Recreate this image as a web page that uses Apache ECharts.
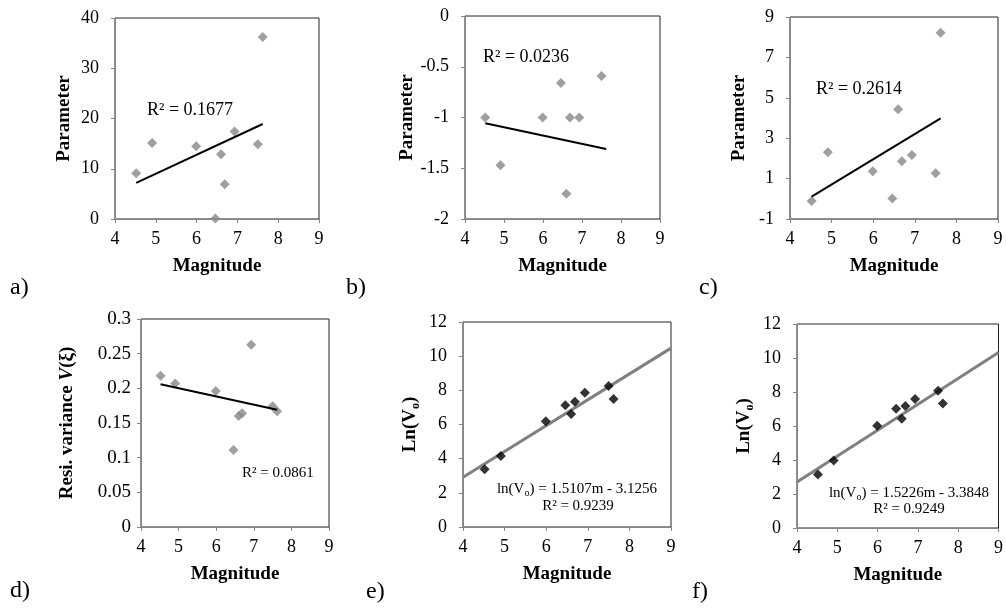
<!DOCTYPE html>
<html>
<head>
<meta charset="utf-8">
<script src="https://cdn.jsdelivr.net/npm/echarts@6/dist/echarts.min.js"></script>
<style>html,body{margin:0;padding:0;background:#fff}#c{width:1006px;height:610px}</style>
</head>
<body>
<div id="c"></div>
<script>
// ---- data ----
var magnitude = [4.52, 4.91, 5.99, 6.46, 6.6, 6.69, 6.93, 7.5, 7.62];
var paramA = [9.1, 15.1, 14.5, 0.1, 12.9, 6.9, 17.4, 14.9, 36.2];
var paramB = [-1.0, -1.47, -1.0, -0.66, -1.75, -1.0, -1.0, -0.59, null];
var paramC = [-0.11, 2.30, 1.36, 0.02, 4.43, 1.86, 2.17, 1.26, 8.22];
var resiVar = [0.218, 0.207, 0.196, 0.111, 0.160, 0.164, 0.263, 0.174, 0.167];
var lnVoE = [3.38, 4.16, 6.19, 7.13, 6.61, 7.33, 7.86, 8.25, 7.50];
var lnVoF = [3.15, 3.97, 6.02, 7.02, 6.43, 7.18, 7.59, 8.07, 7.32];

var trendX = [4.52, 7.62];
var trendAY = [7.2, 18.9];
var trendBY = [-1.056, -1.311];
var trendCY = [0.11, 3.98];
var trendDY = [0.206, 0.169];
var fitX = [4, 9];
var fitEY = [2.917, 10.471];
var fitFY = [2.706, 10.319];

var xTicks = {min: 4, max: 9, interval: 1};
var yRanges = [
  {min: 0, max: 40, interval: 10},
  {min: -2, max: 0, interval: 0.5},
  {min: -1, max: 9, interval: 2},
  {min: 0, max: 0.3, interval: 0.05},
  {min: 0, max: 12, interval: 2},
  {min: 0, max: 12, interval: 2}
];
var panelLetters = ['a)', 'b)', 'c)', 'd)', 'e)', 'f)'];
var r2Texts = ['R\u00b2 = 0.1677', 'R\u00b2 = 0.0236', 'R\u00b2 = 0.2614', 'R\u00b2 = 0.0861', 'R\u00b2 = 0.9239', 'R\u00b2 = 0.9249'];
var eqTexts = ['1.5107m - 3.1256', '1.5226m - 3.3848'];

// ---- layout ----
var FONT = 'Liberation Serif';
var grids = [
  {left: 115, top: 18, width: 204, height: 201},
  {left: 465, top: 16, width: 195, height: 203},
  {left: 790, top: 17, width: 208, height: 202},
  {left: 141, top: 319, width: 188, height: 208},
  {left: 463, top: 322, width: 208, height: 205},
  {left: 797, top: 324, width: 207, height: 204}
];
var yNameGap = [41, 41, 41, 62, 41, 41];
var yLabelMargin = [16, 16, 16, 10, 16, 16];
var yLabelSize = [18, 18, 18, 19, 18, 18];
var yNames = ['Parameter', 'Parameter', 'Parameter',
  '{b|Resi. variance }{i|V}{b|(\u03be)}',
  '{b|Ln(V}{s|o}{b|)}', '{b|Ln(V}{s|o}{b|)}'];

function pairs(xs, ys) {
  var out = [];
  for (var i = 0; i < xs.length; i++) {
    if (ys[i] !== null) out.push([xs[i], ys[i]]);
  }
  return out;
}

var gridOpt = grids.map(function (g) {
  return Object.assign({show: true, borderColor: '#222', borderWidth: 1, backgroundColor: '#fff'}, g);
});

var axisLineStyle = {color: '#868686', width: 1};
var xAxes = grids.map(function (g, i) {
  return {
    gridIndex: i, type: 'value', min: xTicks.min, max: xTicks.max, interval: xTicks.interval,
    axisLine: {show: true, onZero: false, lineStyle: axisLineStyle},
    axisTick: {show: true, inside: false, length: 4, lineStyle: axisLineStyle},
    axisLabel: {fontFamily: FONT, fontSize: 18, color: '#000', margin: 11},
    splitLine: {show: false},
    name: 'Magnitude', nameLocation: 'middle', nameGap: 38,
    nameTextStyle: {fontFamily: FONT, fontWeight: 'bold', fontSize: 19, color: '#000'}
  };
});
var richY = {
  b: {fontFamily: FONT, fontWeight: 'bold', fontSize: 19, color: '#000', lineHeight: 24},
  i: {fontFamily: FONT, fontWeight: 'bold', fontStyle: 'italic', fontSize: 19, color: '#000', lineHeight: 24},
  s: {fontFamily: FONT, fontWeight: 'bold', fontSize: 12, color: '#000', lineHeight: 14, verticalAlign: 'bottom'}
};
var yAxes = grids.map(function (g, i) {
  var r = yRanges[i];
  return {
    gridIndex: i, type: 'value', min: r.min, max: r.max, interval: r.interval,
    axisLine: {show: true, onZero: false, lineStyle: axisLineStyle},
    axisTick: {show: true, inside: false, length: 4, lineStyle: axisLineStyle},
    axisLabel: {fontFamily: FONT, fontSize: yLabelSize[i], color: '#000', margin: yLabelMargin[i]},
    splitLine: {show: false},
    name: yNames[i], nameLocation: 'middle', nameGap: yNameGap[i], nameRotate: 90,
    nameTextStyle: {fontFamily: FONT, fontWeight: 'bold', fontSize: 19, color: '#000', rich: richY}
  };
});

var pointSets = [paramA, paramB, paramC, resiVar, lnVoE, lnVoF];
var series = [];
pointSets.forEach(function (ys, i) {
  series.push({
    type: 'scatter', xAxisIndex: i, yAxisIndex: i, symbol: 'diamond', symbolSize: 10,
    itemStyle: {color: i < 4 ? '#878787' : '#000'}, z: 3,
    data: pairs(magnitude, ys)
  });
});
[trendAY, trendBY, trendCY, trendDY].forEach(function (ys, i) {
  series.push({
    type: 'line', xAxisIndex: i, yAxisIndex: i, symbol: 'none', z: 4,
    lineStyle: {color: '#000', width: 2}, data: pairs(trendX, ys)
  });
});
[fitEY, fitFY].forEach(function (ys, k) {
  series.push({
    type: 'line', xAxisIndex: 4 + k, yAxisIndex: 4 + k, symbol: 'none', z: 2,
    lineStyle: {color: '#808080', width: 3}, data: pairs(fitX, ys)
  });
});

// ---- annotation texts ----
function txt(x, y, s, size, align, extra) {
  return {
    type: 'text', x: x, y: y, z: 100,
    style: Object.assign({text: s, fontFamily: FONT, fontSize: size, fill: '#000',
      align: align || 'left', verticalAlign: 'middle'}, extra || {})
  };
}
var letterPos = [[10, 288], [346, 288], [699, 288], [10, 591], [366, 592], [692, 592]];
var graphics = [];
panelLetters.forEach(function (l, i) {
  graphics.push(txt(letterPos[i][0], letterPos[i][1], l, 24));
});
graphics.push(txt(147, 110, r2Texts[0], 18));
graphics.push(txt(483, 57, r2Texts[1], 18));
graphics.push(txt(816, 89, r2Texts[2], 18));
graphics.push(txt(242, 473, r2Texts[3], 15));
var richEq = {
  n: {fontFamily: FONT, fontSize: 15, fill: '#000', lineHeight: 18},
  s: {fontFamily: FONT, fontSize: 10, fill: '#000', lineHeight: 10, verticalAlign: 'bottom'}
};
graphics.push(txt(577, 489, '{n|ln(V}{s|o}{n|) = ' + eqTexts[0] + '}', 15, 'center', {rich: richEq}));
graphics.push(txt(578, 506, r2Texts[4], 15, 'center'));
graphics.push(txt(909, 493, '{n|ln(V}{s|o}{n|) = ' + eqTexts[1] + '}', 15, 'center', {rich: richEq}));
graphics.push(txt(909, 509, r2Texts[5], 15, 'center'));

var chart = echarts.init(document.getElementById('c'));
chart.setOption({
  animation: false,
  backgroundColor: '#fff',
  grid: gridOpt,
  xAxis: xAxes,
  yAxis: yAxes,
  series: series,
  graphic: graphics
});
</script>
</body>
</html>
